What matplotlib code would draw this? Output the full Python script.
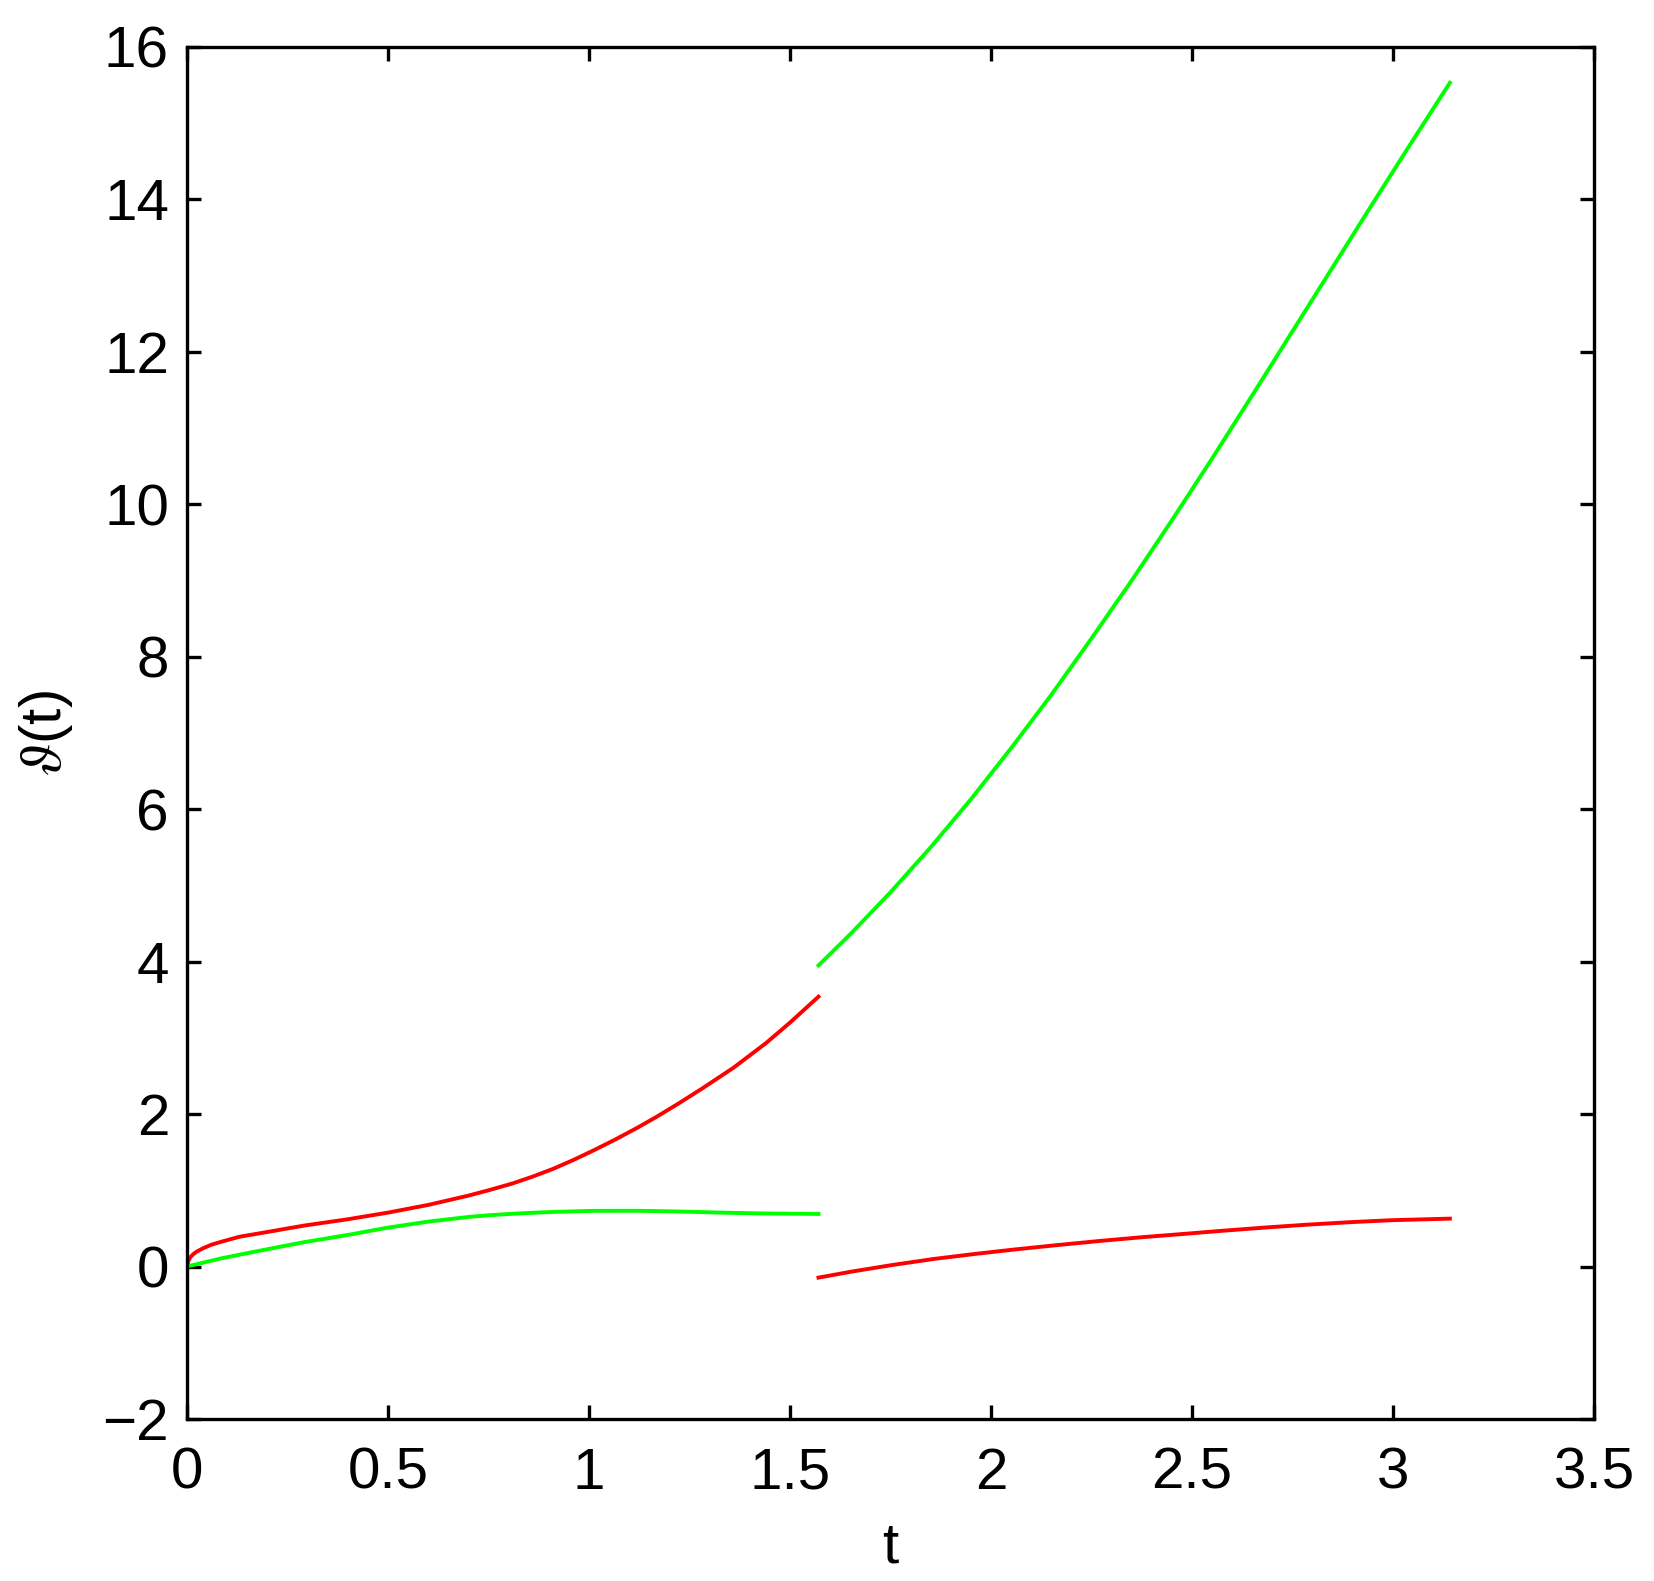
import numpy as np
import matplotlib
matplotlib.use('Agg')
import matplotlib.pyplot as plt

plt.rcParams['font.family'] = ['Liberation Sans', 'DejaVu Sans']
plt.rcParams['mathtext.fontset'] = 'stix'

# first half, t in [0, pi/2]
t_red1 = [0.0, 0.003, 0.008, 0.015, 0.024, 0.04, 0.06, 0.086, 0.13, 0.19, 0.29,
          0.40, 0.50, 0.60, 0.70, 0.75, 0.81, 0.86, 0.91, 0.96, 1.01, 1.065,
          1.12, 1.17, 1.22, 1.28, 1.36, 1.44, 1.50, 1.5708]
v_red1 = [0.0, 0.07, 0.12, 0.16, 0.195, 0.24, 0.285, 0.326, 0.39, 0.444, 0.536,
          0.620, 0.707, 0.808, 0.930, 1.00, 1.09, 1.18, 1.28, 1.395, 1.52, 1.665,
          1.82, 1.97, 2.13, 2.33, 2.61, 2.93, 3.20, 3.54]

t_green1 = [0.0, 0.086, 0.19, 0.29, 0.40, 0.50, 0.60, 0.70, 0.75, 0.81, 0.86, 0.91,
            1.01, 1.12, 1.22, 1.32, 1.43, 1.5708]
v_green1 = [0.0, 0.108, 0.217, 0.318, 0.414, 0.510, 0.589, 0.650, 0.672, 0.692, 0.705,
            0.716, 0.730, 0.731, 0.722, 0.708, 0.696, 0.690]

# second half, t in [pi/2, pi]
t_red2 = [1.5708, 1.653, 1.756, 1.859, 1.962, 2.065, 2.169, 2.272, 2.375, 2.478,
          2.581, 2.684, 2.787, 2.891, 2.994, 3.1416]
v_red2 = [-0.146, -0.067, 0.021, 0.100, 0.166, 0.227, 0.283, 0.336, 0.384, 0.427,
          0.471, 0.512, 0.549, 0.581, 0.607, 0.628]

t_green2 = [1.5708, 1.65, 1.75, 1.85, 1.95, 2.05, 2.15, 2.25, 2.35, 2.45,
            2.55, 2.65, 2.75, 2.85, 2.95, 3.05, 3.1416]
v_green2 = [3.95, 4.36, 4.91, 5.50, 6.13, 6.80, 7.50, 8.24, 9.00, 9.79,
            10.60, 11.43, 12.27, 13.11, 13.95, 14.78, 15.53]

xticks = [0, 0.5, 1, 1.5, 2, 2.5, 3, 3.5]
yticks = [-2, 0, 2, 4, 6, 8, 10, 12, 14, 16]

fig = plt.figure(figsize=(16.54, 15.81), dpi=100)
ax = fig.add_axes([0.1131, 0.1025, 0.8506, 0.8678])

lw = 2.8
ax.plot(t_red1, v_red1, color='#ff0000', lw=lw)
ax.plot(t_green1, v_green1, color='#00ff00', lw=lw)
ax.plot(t_red2, v_red2, color='#ff0000', lw=lw)
ax.plot(t_green2, v_green2, color='#00ff00', lw=lw)

ax.set_xlim(0, 3.5)
ax.set_ylim(-2, 16)
ax.set_xticks(xticks)
ax.set_xticklabels([('%g' % x) for x in xticks])
ax.set_yticks(yticks)

for s in ax.spines.values():
    s.set_linewidth(2.4)
ax.tick_params(direction='in', length=10, width=2.4, top=True, right=True,
               labelsize=42)
ax.tick_params(axis='x', pad=20)
ax.tick_params(axis='y', pad=13)

ax.set_xlabel('t', fontsize=42, labelpad=14)
ax.set_ylabel(r'$\vartheta$(t)', fontsize=42, labelpad=20)

fig.savefig('out.png', dpi=100)
